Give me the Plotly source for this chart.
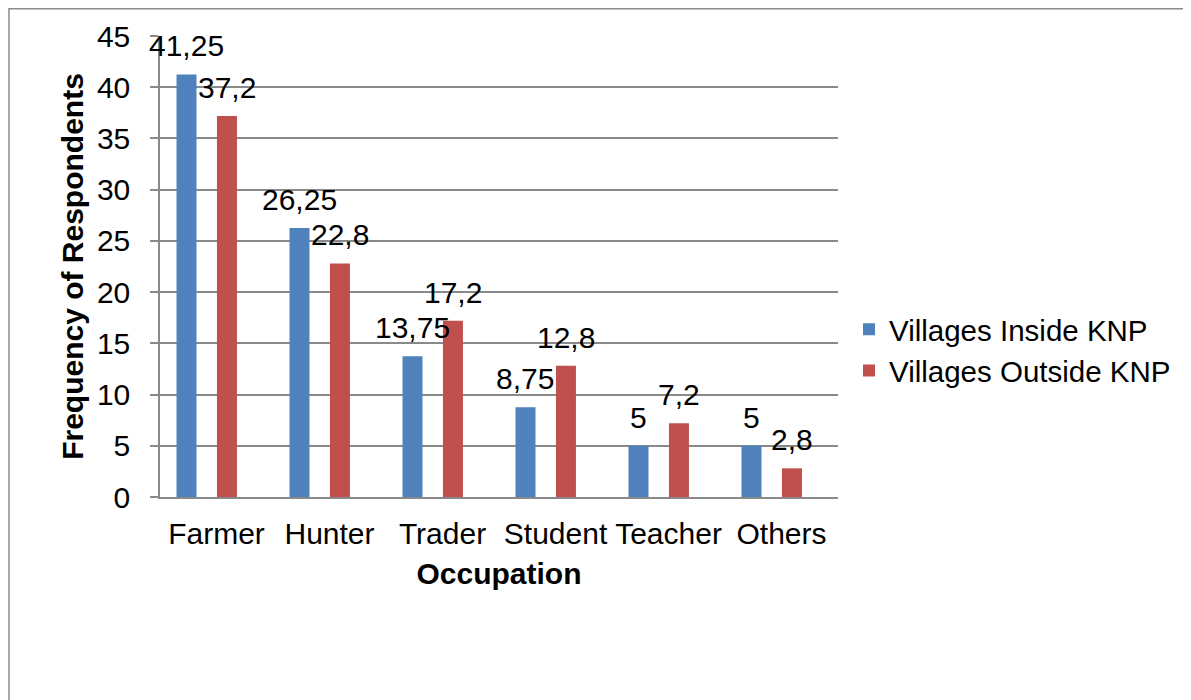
import plotly.graph_objects as go

categories = ["Farmer", "Hunter", "Trader", "Student", "Teacher", "Others"]
inside_knp = [41.25, 26.25, 13.75, 8.75, 5, 5]
outside_knp = [37.2, 22.8, 17.2, 12.8, 7.2, 2.8]
series_names = ["Villages Inside KNP", "Villages Outside KNP"]
y_ticks = [0, 5, 10, 15, 20, 25, 30, 35, 40, 45]

# page body has an 8px margin; work in screen coords and subtract it
OX, OY = 8, 8
W, H = 1191 - OX, 700 - OY
PX0, PX1, PY0, PY1 = 160, 838, 36, 497  # plot area in screen coords
L, R = PX0 - OX, (OX + W) - PX1
T, B = PY0 - OY, (OY + H) - PY1
plot_w = PX1 - PX0
plot_h = PY1 - PY0
cat_px = plot_w / len(categories)

FONT = "Liberation Sans, Arial, sans-serif"
FS = 30
FS_LEG = 29.5
blue = "#4F81BD"
red = "#C0504D"
grid = "#898989"

bar_w = 0.177
offsets = [-0.354, 0.004]
colors = [blue, red]
series = [inside_knp, outside_knp]

def fmt(v):
    return f"{v:g}".replace(".", ",")

fig = go.Figure()
for name, vals, col, off in zip(series_names, series, colors, offsets):
    fig.add_trace(go.Bar(
        x=categories, y=vals, name=name,
        marker=dict(color=col, line=dict(width=0)),
        width=bar_w, offset=off,
    ))

annotations = []
for vals, off in zip(series, offsets):
    shift = (off + bar_w / 2) * cat_px
    for c, v in zip(categories, vals):
        annotations.append(dict(
            x=c, y=v, xref="x", yref="y", text=fmt(v), showarrow=False,
            xanchor="center", yanchor="bottom", xshift=shift, yshift=10,
            font=dict(family=FONT, size=FS, color="black"),
        ))

def px_x(sx):
    return (sx - PX0) / plot_w

def px_y(sy):
    return (PY1 - sy) / plot_h

fig.update_layout(
    width=W, height=H,
    margin=dict(l=L, r=R, t=T, b=B, pad=0),
    paper_bgcolor="white", plot_bgcolor="white",
    font=dict(family=FONT, size=FS, color="black"),
    barmode="group",
    showlegend=True,
    legend=dict(
        x=px_x(849), y=px_y(350), xanchor="left", yanchor="middle",
        font=dict(family=FONT, size=FS_LEG, color="black"),
        itemwidth=30, bgcolor="rgba(0,0,0,0)", tracegroupgap=0,
    ),
    annotations=annotations,
    shapes=[dict(type="rect", xref="paper", yref="paper",
                 x0=px_x(9), x1=px_x(1210), y0=px_y(720), y1=px_y(8.8),
                 line=dict(color="#8a8a8a", width=1.5), fillcolor="rgba(0,0,0,0)",
                 layer="below")],
)

fig.update_xaxes(
    type="category", range=[-0.5, len(categories) - 0.5],
    showgrid=False, showline=True, linecolor=grid, linewidth=1.5,
    ticks="", tickfont=dict(family=FONT, size=FS), ticklabelstandoff=9,
    title=dict(text="<b>Occupation</b>", font=dict(family=FONT, size=FS), standoff=14),
)
fig.update_yaxes(
    range=[0, 45], tickvals=y_ticks, showgrid=True, gridcolor=grid, gridwidth=1.5,
    showline=True, linecolor=grid, linewidth=1.5, zeroline=False,
    ticks="outside", ticklen=8, tickcolor=grid, tickwidth=1.5,
    tickfont=dict(family=FONT, size=FS), ticklabelstandoff=14,
    title=dict(text="<b>Frequency of Respondents</b>", font=dict(family=FONT, size=FS), standoff=4),
)

fig.write_html("out.html")
